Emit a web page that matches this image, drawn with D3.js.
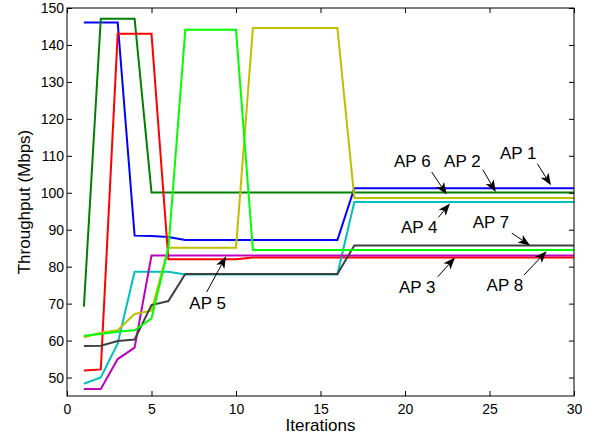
<!DOCTYPE html>
<html>
<head>
<meta charset="utf-8">
<script src="https://cdn.jsdelivr.net/npm/d3@7"></script>
<style>
  body { margin: 0; background: #fff; }
  svg { font-family: "Liberation Sans", Arial, Helvetica, sans-serif; }
</style>
</head>
<body>
<div id="chart"></div>
<script>
// iterations 1..30
const iterations = d3.range(1, 31);

// throughput per AP (Mbps)
const ap1 = [146.1, 146.1, 146.1, 88.4, 88.3, 88.0, 87.2, 87.2, 87.2, 87.2, 87.2, 87.2, 87.2, 87.2, 87.2, 87.2,
  101.2, 101.2, 101.2, 101.2, 101.2, 101.2, 101.2, 101.2, 101.2, 101.2, 101.2, 101.2, 101.2, 101.2];
const ap2 = [69.2, 147.1, 147.1, 147.1, 100.1, 100.1, 100.1, 100.1, 100.1, 100.1, 100.1, 100.1, 100.1, 100.1, 100.1, 100.1,
  100.1, 100.1, 100.1, 100.1, 100.1, 100.1, 100.1, 100.1, 100.1, 100.1, 100.1, 100.1, 100.1, 100.1];
const ap3 = [51.9, 52.2, 143.0, 143.0, 143.0, 82.0, 82.0, 82.0, 82.0, 82.0, 82.5, 82.5, 82.5, 82.5, 82.5, 82.5,
  82.5, 82.5, 82.5, 82.5, 82.5, 82.5, 82.5, 82.5, 82.5, 82.5, 82.5, 82.5, 82.5, 82.5];
const ap4 = [48.3, 50.0, 59.2, 78.6, 78.6, 78.6, 77.9, 77.9, 77.9, 77.9, 77.9, 77.9, 77.9, 77.9, 77.9, 77.9,
  97.5, 97.5, 97.5, 97.5, 97.5, 97.5, 97.5, 97.5, 97.5, 97.5, 97.5, 97.5, 97.5, 97.5];
const ap5 = [46.9, 46.9, 55.0, 58.1, 83.0, 83.0, 83.0, 83.0, 83.0, 83.0, 83.0, 83.0, 83.0, 83.0, 83.0, 83.0,
  83.0, 83.0, 83.0, 83.0, 83.0, 83.0, 83.0, 83.0, 83.0, 83.0, 83.0, 83.0, 83.0, 83.0];
const ap6 = [60.9, 62.1, 62.8, 67.2, 68.1, 85.1, 85.1, 85.1, 85.1, 85.1, 144.6, 144.6, 144.6, 144.6, 144.6, 144.6,
  98.6, 98.6, 98.6, 98.6, 98.6, 98.6, 98.6, 98.6, 98.6, 98.6, 98.6, 98.6, 98.6, 98.6];
const ap7 = [58.5, 58.6, 59.9, 60.3, 69.6, 70.7, 78.0, 78.0, 78.0, 78.0, 78.0, 78.0, 78.0, 78.0, 78.0, 78.0,
  85.7, 85.7, 85.7, 85.7, 85.7, 85.7, 85.7, 85.7, 85.7, 85.7, 85.7, 85.7, 85.7, 85.7];
const ap8 = [61.3, 61.8, 62.4, 62.8, 66.0, 85.0, 144.1, 144.1, 144.1, 144.1, 84.5, 84.5, 84.5, 84.5, 84.5, 84.5,
  84.5, 84.5, 84.5, 84.5, 84.5, 84.5, 84.5, 84.5, 84.5, 84.5, 84.5, 84.5, 84.5, 84.5];

const seriesNames = ["AP 1", "AP 2", "AP 3", "AP 4", "AP 5", "AP 6", "AP 7", "AP 8"];
const seriesValues = [ap1, ap2, ap3, ap4, ap5, ap6, ap7, ap8];
const seriesColors = ["#0000ff", "#008000", "#ff0000", "#00bfbf", "#bf00bf", "#bfbf00", "#404040", "#00ff00"];

const xTicks = [0, 5, 10, 15, 20, 25, 30];
const yTicks = [50, 60, 70, 80, 90, 100, 110, 120, 130, 140, 150];

// arrow labels: tip in data units, tail and text offset in pixels from the tip
const labels = [
  { text: "AP 1", x: 28.64, y: 102.0, tx: -13.7, ty: -21.7, lx: -51, ly: -26 },
  { text: "AP 2", x: 25.37, y: 100.2, tx: -13, ty: -22.4, lx: -51.7, ly: -24.7 },
  { text: "AP 6", x: 22.47, y: 99.5, tx: -15, ty: -22.6, lx: -52.7, ly: -27.3 },
  { text: "AP 4", x: 22.66, y: 97.1, tx: -11.7, ty: 14, lx: -49, ly: 30 },
  { text: "AP 7", x: 27.40, y: 85.7, tx: -18.3, ty: -12.6, lx: -57.3, ly: -18 },
  { text: "AP 3", x: 22.96, y: 82.5, tx: -17.3, ty: 19.4, lx: -56, ly: 35.4 },
  { text: "AP 8", x: 28.38, y: 84.2, tx: -22.7, ty: 24, lx: -60, ly: 39.7 },
  { text: "AP 5", x: 9.41, y: 82.8, tx: -19.3, ty: 35.7, lx: -36.7, ly: 52.3 }
];

const width = 598;
const height = 436;
const margin = { top: 8, right: 24, bottom: 40, left: 67 };

const x = d3.scaleLinear().domain([0, 30]).range([margin.left, width - margin.right]);
const y = d3.scaleLinear().domain([45, 150]).range([height - margin.bottom, margin.top]);

const svg = d3.select("#chart").append("svg")
  .attr("width", width)
  .attr("height", height);

// series lines, drawn in order so AP 8 ends up on top
const line = d3.line()
  .x((d, i) => x(iterations[i]))
  .y(d => y(d));

svg.append("g")
  .attr("fill", "none")
  .attr("stroke-width", 2)
  .attr("stroke-linejoin", "miter")
  .selectAll("path")
  .data(seriesValues)
  .join("path")
  .attr("stroke", (d, i) => seriesColors[i])
  .attr("d", line);

// axes with inward ticks on all four sides
const styleAxis = g => {
  g.select(".domain").remove();
  g.selectAll(".tick line").attr("stroke", "#000");
  g.selectAll(".tick text").attr("fill", "#000").attr("font-family", null).style("font-size", "14px");
};

svg.append("g")
  .attr("transform", `translate(0,${y(45)})`)
  .call(d3.axisBottom(x).tickValues(xTicks).tickSize(-5).tickPadding(8).tickSizeOuter(0))
  .call(styleAxis);

svg.append("g")
  .attr("transform", `translate(0,${y(150)})`)
  .call(d3.axisTop(x).tickValues(xTicks).tickSize(-5).tickFormat("").tickSizeOuter(0))
  .call(styleAxis);

svg.append("g")
  .attr("transform", `translate(${x(0)},0)`)
  .call(d3.axisLeft(y).tickValues(yTicks).tickSize(-5).tickPadding(3).tickSizeOuter(0))
  .call(styleAxis);

svg.append("g")
  .attr("transform", `translate(${x(30)},0)`)
  .call(d3.axisRight(y).tickValues(yTicks).tickSize(-5).tickFormat("").tickSizeOuter(0))
  .call(styleAxis);

svg.append("rect")
  .attr("x", x(0))
  .attr("y", y(150))
  .attr("width", x(30) - x(0))
  .attr("height", y(45) - y(150))
  .attr("fill", "none")
  .attr("stroke", "#000")
  .attr("stroke-width", 1);

// axis titles
svg.append("text")
  .attr("x", (x(0) + x(30)) / 2)
  .attr("y", 431)
  .attr("text-anchor", "middle")
  .style("font-size", "17px")
  .text("Iterations");

svg.append("text")
  .attr("transform", `translate(30,${(y(45) + y(150)) / 2}) rotate(-90)`)
  .attr("text-anchor", "middle")
  .style("font-size", "17px")
  .text("Throughput (Mbps)");

// annotation arrows
const ann = svg.append("g");

labels.forEach(d => {
  const px = x(d.x);
  const py = y(d.y);
  const sx = px + d.tx;
  const sy = py + d.ty;
  const ang = Math.atan2(py - sy, px - sx);
  const len = 12, half = 4.6, notch = 9;
  const bx = px - len * Math.cos(ang);
  const by = py - len * Math.sin(ang);
  const nx = px - notch * Math.cos(ang);
  const ny = py - notch * Math.sin(ang);
  const ox = -Math.sin(ang) * half;
  const oy = Math.cos(ang) * half;

  ann.append("line")
    .attr("x1", sx).attr("y1", sy)
    .attr("x2", nx).attr("y2", ny)
    .attr("stroke", "#000")
    .attr("stroke-width", 1);

  ann.append("path")
    .attr("d", `M${px},${py}L${bx + ox},${by + oy}L${nx},${ny}L${bx - ox},${by - oy}Z`)
    .attr("fill", "#000");

  ann.append("text")
    .attr("x", px + d.lx)
    .attr("y", py + d.ly)
    .style("font-size", "17px")
    .text(d.text);
});
</script>
</body>
</html>
